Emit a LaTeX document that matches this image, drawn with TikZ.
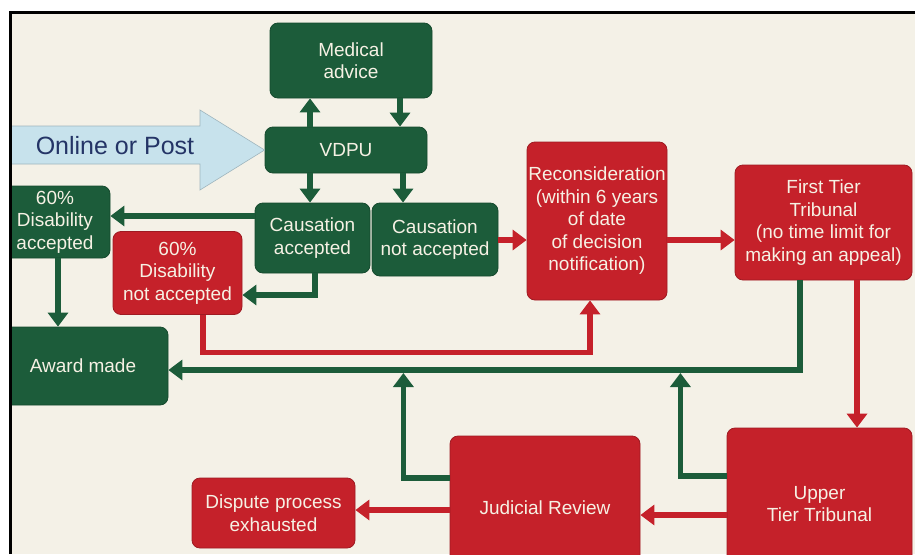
\documentclass[tikz,border=0pt]{standalone}
\usepackage{fontspec}
\setmainfont{Liberation Sans}
\usetikzlibrary{arrows.meta,calc}
\definecolor{boxgreen}{RGB}{28,92,58}
\definecolor{boxred}{RGB}{197,33,42}
\definecolor{paper}{RGB}{244,241,231}
\definecolor{postblue}{RGB}{199,226,236}
\definecolor{postink}{RGB}{36,52,102}
\definecolor{boxtext}{RGB}{246,241,228}
\tikzset{
  gbox/.style={rectangle,rounded corners=8pt,fill=boxgreen,draw=boxgreen!80!black,line width=0.8pt,
    text=boxtext,align=center,inner sep=1pt,font=\fontsize{19}{22.5}\selectfont},
  rbox/.style={gbox,fill=boxred,draw=boxred!80!black},
  garrow/.style={draw=boxgreen,line width=5.5pt,-{Triangle[length=14pt,width=20pt]}},
  rarrow/.style={garrow,draw=boxred},
}

\begin{document}
\begin{tikzpicture}[x=1pt,y=-1pt]
  \useasboundingbox (0,0) rectangle (915,554);
  \fill[white] (0,0) rectangle (915,554);
  \fill[paper] (10,12) rectangle (915,554);
  \begin{scope}
  \clip (10,12) rectangle (915,554);
  \node[gbox,minimum width=162pt,minimum height=75pt] (med) at (351,60.5) {Medical\\advice};
  \node[gbox,minimum width=162pt,minimum height=46pt] (vdpu) at (346,150) {VDPU};
  \filldraw[fill=postblue,draw=postblue!80!black,line width=0.6pt]
    (0,126) -- (200,126) -- (200,110) -- (vdpu.west) -- (200,190) -- (200,164) -- (0,164) -- cycle;
  \node[text=postink,font=\fontsize{25}{30}\selectfont] (post) at (115,146) {Online or Post};
  \node[gbox,minimum width=115pt,minimum height=70pt] (causa) at (312.5,238) {Causation\\accepted};
  \node[gbox,minimum width=126pt,minimum height=73pt] (causn) at (435,239.5) {Causation\\not accepted};
  \node[gbox,minimum width=110pt,minimum height=72pt] (dacc) at (55,222) {60\%\\Disability\\accepted};
  \node[rbox,minimum width=129pt,minimum height=83pt] (dnot) at (177.5,273) {60\%\\Disability\\not accepted};
  \node[gbox,minimum width=170pt,minimum height=78pt] (award) at (83,366) {Award made};
  \node[rbox,minimum width=140pt,minimum height=158pt] (recon) at (597,221)
    {Reconsideration\\(within 6 years\\of date\\of decision\\notification)};
  \node[rbox,minimum width=177pt,minimum height=115pt] (ftt) at (823.5,222.5)
    {First Tier\\Tribunal\\(no time limit for\\making an appeal)};
  \node[rbox,minimum width=185pt,minimum height=152pt] (utt) at (819.5,504) {Upper\\Tier Tribunal};
  \node[rbox,minimum width=190pt,minimum height=144pt] (jr) at (545,508) {Judicial Review};
  \node[rbox,minimum width=163pt,minimum height=70pt] (disp) at (273.5,513) {Dispute process\\exhausted};

  \draw[garrow] ($(vdpu.north)+(-36,0)$) -- ($(med.south)+(-41,0)$);
  \draw[garrow] ($(med.south)+(49,0)$) -- ($(vdpu.north)+(54,0)$);
  \draw[garrow] ($(vdpu.south)+(-36,0)$) -- ($(causa.north)+(-2.5,0)$);
  \draw[garrow] ($(vdpu.south)+(57,0)$) -- ($(causn.north)+(-32,0)$);
  \draw[garrow] ($(causa.west)+(0,-22)$) -- ($(dacc.east)+(0,-6)$);
  \draw[garrow] ($(causa.south)+(2.5,0)$) |- ($(dnot.east)+(0,22)$);
  \draw[garrow] ($(dacc.south)+(3,0)$) -- ($(award.north)+(-25,0)$);
  \draw[rarrow] ($(causn.east)+(0,0.5)$) -- ($(recon.west)+(0,19)$);
  \draw[rarrow] ($(recon.east)+(0,19)$) -- ($(ftt.west)+(0,17.5)$);
  \draw[rarrow] ($(dnot.south)+(25.5,0)$) |- ($(recon.south)+(-7,52)$) -- ($(recon.south)+(-7,0)$);
  \draw[garrow] ($(ftt.south)+(-23.5,0)$) |- ($(award.east)+(0,4)$);
  \draw[garrow] ($(jr.west)+(0,-30)$) -| ($(award.east)+(235,7)$);
  \draw[garrow] ($(utt.west)+(0,-28)$) -| ($(award.east)+(512,7)$);
  \draw[rarrow] ($(ftt.south)+(33.5,0)$) -- ($(utt.north)+(37.5,0)$);
  \draw[rarrow] ($(utt.west)+(0,11)$) -- ($(jr.east)+(0,7)$);
  \draw[rarrow] ($(jr.west)+(0,2)$) -- ($(disp.east)+(0,-3)$);
  \end{scope}
  \draw[line width=3pt] (10,554) -- (10,12) -- (915,12);
\end{tikzpicture}
\end{document}
